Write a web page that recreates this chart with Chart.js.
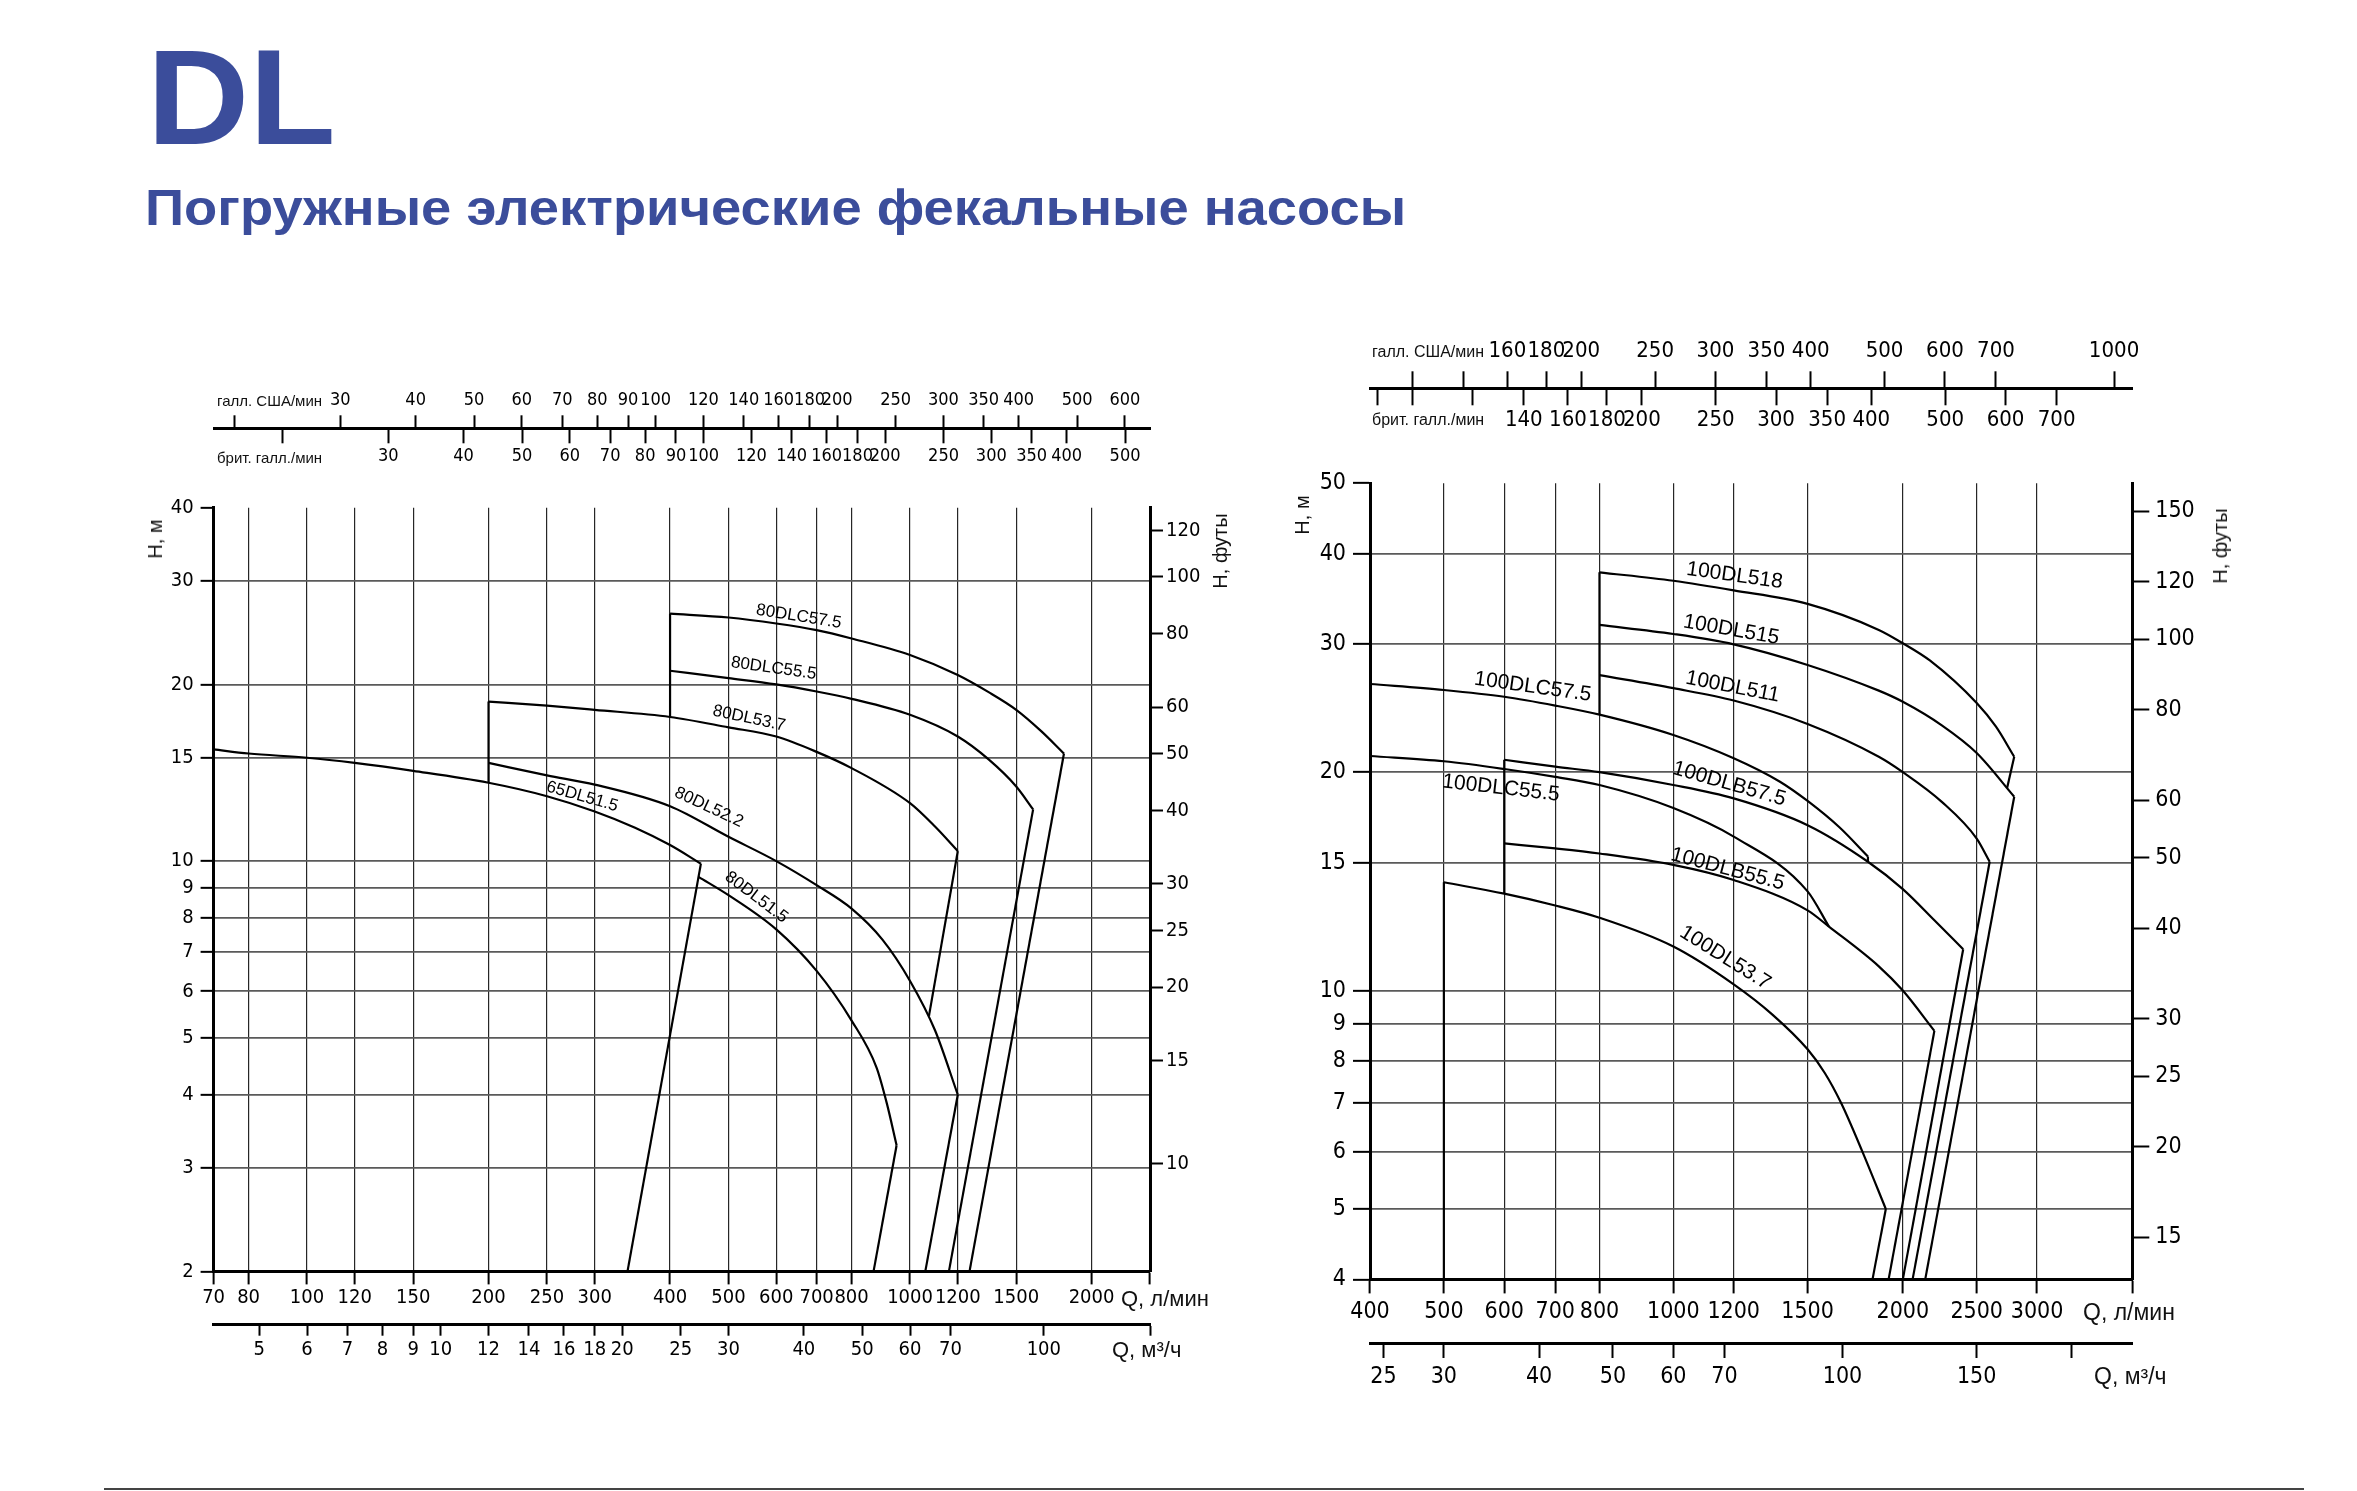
<!DOCTYPE html>
<html>
<head>
<meta charset="utf-8">
<script src="https://cdn.jsdelivr.net/npm/chart.js@4.4.1/dist/chart.umd.min.js"></script>
<style>
  html, body { margin: 0; padding: 0; background: #fff; }
  #page { position: relative; width: 2357px; height: 1491px; overflow: hidden; font-family: 'Liberation Sans', Arial, sans-serif; }
  #page canvas { position: absolute; left: 0; top: 0; }
  .t { position: absolute; white-space: nowrap; color: #111; line-height: 1; }
  .mid { transform: translateY(-50%); }
  .rot { transform: translate(-50%, -50%) rotate(-90deg); }
  #ttl { left: 147px; top: 29px; font-size: 136px; font-weight: bold; color: #3b4d9b; transform: scaleX(1.04); transform-origin: 0 0; }
  #sub { left: 145px; top: 183px; font-size: 50px; font-weight: bold; color: #3b4d9b; transform: scaleX(1.087); transform-origin: 0 0; }
  #rule { position: absolute; left: 104px; top: 1488px; width: 2200px; height: 2px; background: #444; }
</style>
</head>
<body>
<div id="page">
  <div class="t" id="ttl">DL</div>
  <div class="t" id="sub">Погружные электрические фекальные насосы</div>

  <canvas id="leftStrip" width="2357" height="1491"></canvas>
  <canvas id="leftMain" width="2357" height="1491"></canvas>
  <canvas id="rightStrip" width="2357" height="1491"></canvas>
  <canvas id="rightMain" width="2357" height="1491"></canvas>

  <div class="t mid" style="left:217px;top:400px;font-size:15px">галл. США/мин</div>
  <div class="t mid" style="left:217px;top:457px;font-size:15px">брит. галл./мин</div>
  <div class="t rot" style="left:155px;top:539px;font-size:20px">H, м</div>
  <div class="t rot" style="left:1220px;top:551px;font-size:20px">H, футы</div>
  <div class="t mid" style="left:1121px;top:1299px;font-size:22px">Q, л/мин</div>
  <div class="t mid" style="left:1112px;top:1350px;font-size:22px">Q, м³/ч</div>

  <div class="t mid" style="left:1372px;top:352px;font-size:16px">галл. США/мин</div>
  <div class="t mid" style="left:1372px;top:420px;font-size:16px">брит. галл./мин</div>
  <div class="t rot" style="left:1302px;top:515px;font-size:20px">H, м</div>
  <div class="t rot" style="left:2220px;top:546px;font-size:20px">H, футы</div>
  <div class="t mid" style="left:2083px;top:1312px;font-size:23px">Q, л/мин</div>
  <div class="t mid" style="left:2094px;top:1376px;font-size:23px">Q, м³/ч</div>

  <div id="rule"></div>
</div>

<script>
const L_PER_USGAL = 3.785411784, L_PER_UKGAL = 4.54609, L_PER_M3H = 1000 / 60, FT_PER_M = 3.28084;
const TICK_FONT = "'Liberation Sans Narrow', 'DejaVu Sans Condensed', 'Liberation Sans', sans-serif";

// ---------- left chart: 65DL / 80DL ----------
const leftFlowTicks = [70, 80, 100, 120, 150, 200, 250, 300, 400, 500, 600, 700, 800, 1000, 1200, 1500, 2000, 2500];
const leftHeadTicks = [2, 3, 4, 5, 6, 7, 8, 9, 10, 15, 20, 30, 40];
const leftFeetTicks = [10, 15, 20, 25, 30, 40, 50, 60, 80, 100, 120];
const leftM3hTicks = [5, 6, 7, 8, 9, 10, 12, 14, 16, 18, 20, 25, 30, 40, 50, 60, 70, 100, 150];
const leftUsGalTicks = [20, 30, 40, 50, 60, 70, 80, 90, 100, 120, 140, 160, 180, 200, 250, 300, 350, 400, 500, 600];
const leftUkGalTicks = [20, 30, 40, 50, 60, 70, 80, 90, 100, 120, 140, 160, 180, 200, 250, 300, 350, 400, 500];

const curve65DL51_5 = [[70, 15.5], [80, 15.25], [100, 15.0], [120, 14.7], [150, 14.25], [200, 13.6], [250, 12.9], [300, 12.15], [350, 11.4], [400, 10.65], [450, 9.9]];
const curve80DL52_2 = [[200, 14.7], [250, 14.0], [300, 13.5], [400, 12.4], [500, 11.0], [600, 10.0], [700, 9.1], [800, 8.3], [900, 7.35], [1000, 6.25], [1100, 5.15], [1200, 4.0]];
const curve80DL51_5 = [[446, 9.4], [500, 8.75], [600, 7.65], [700, 6.5], [800, 5.35], [880, 4.45], [915, 3.87], [950, 3.28]];
const curve80DL53_7 = [[200, 18.7], [250, 18.4], [300, 18.1], [400, 17.6], [500, 16.9], [600, 16.3], [700, 15.35], [800, 14.4], [1000, 12.55], [1100, 11.45], [1200, 10.4]];
const curve80DLC55_5 = [[400, 21.1], [500, 20.5], [600, 20.0], [700, 19.45], [800, 18.9], [1000, 17.75], [1200, 16.3], [1350, 14.9], [1500, 13.4], [1600, 12.25]];
const curve80DLC57_5 = [[400, 26.4], [500, 26.0], [600, 25.4], [700, 24.75], [800, 23.95], [1000, 22.45], [1200, 20.75], [1350, 19.4], [1500, 18.1], [1650, 16.65], [1800, 15.25]];

const leftEdge200 = [[200, 13.6], [200, 18.7]];
const leftEdge400 = [[400, 17.6], [400, 26.4]];
const drop65DL51_5 = [[450, 9.9], [340, 2]];
const drop80DL52_2 = [[1200, 4.0], [1060, 2]];
const drop80DL51_5 = [[950, 3.28], [870, 2]];
const drop80DL53_7 = [[1200, 10.4], [1075, 5.45]];
const drop80DLC55_5 = [[1600, 12.25], [1160, 2]];
const drop80DLC57_5 = [[1800, 15.25], [1255, 2]];

const leftCurveLabels = [
  { text: '80DLC57.5', q: 654, h: 26.1, angle: 9 },
  { text: '80DLC55.5', q: 594, h: 21.3, angle: 8 },
  { text: '80DL53.7', q: 541, h: 17.5, angle: 12 },
  { text: '80DL52.2', q: 464, h: 12.35, angle: 25 },
  { text: '65DL51.5', q: 286, h: 12.88, angle: 16 },
  { text: '80DL51.5', q: 556, h: 8.68, angle: 37 }
];

// ---------- right chart: 100DL ----------
const rightFlowTicks = [400, 500, 600, 700, 800, 1000, 1200, 1500, 2000, 2500, 3000, 4000];
const rightHeadTicks = [4, 5, 6, 7, 8, 9, 10, 15, 20, 30, 40, 50];
const rightFeetTicks = [15, 20, 25, 30, 40, 50, 60, 80, 100, 120, 150];
const rightM3hTicks = [25, 30, 40, 50, 60, 70, 100, 150, 200];
const rightUsGalTicks = [120, 140, 160, 180, 200, 250, 300, 350, 400, 500, 600, 700, 1000];
const rightUkGalTicks = [90, 100, 120, 140, 160, 180, 200, 250, 300, 350, 400, 500, 600, 700];

const curve100DL518 = [[800, 37.7], [1000, 36.7], [1200, 35.6], [1500, 34.1], [1860, 31.4], [2000, 30.1], [2170, 28.5], [2500, 24.9], [2650, 23.1], [2800, 21.0]];
const curve100DL515 = [[800, 31.9], [1000, 31.0], [1200, 30.0], [1500, 28.1], [1860, 25.9], [2000, 25.0], [2250, 23.2], [2500, 21.25], [2800, 18.5]];
const curve100DL511 = [[800, 27.2], [1000, 26.1], [1200, 25.1], [1500, 23.3], [1860, 21.0], [2000, 20.0], [2250, 18.2], [2500, 16.2], [2600, 15.05]];
const curve100DLC57_5 = [[400, 26.45], [500, 25.95], [600, 25.4], [700, 24.7], [800, 24.0], [1000, 22.5], [1200, 20.9], [1380, 19.4], [1500, 18.25], [1650, 16.8], [1800, 15.3]];
const curve100DLB57_5 = [[600, 20.8], [700, 20.35], [800, 20.0], [1000, 19.2], [1200, 18.4], [1500, 16.9], [1800, 15.05], [2000, 13.8], [2200, 12.5], [2400, 11.4]];
const curve100DLC55_5 = [[400, 21.05], [500, 20.7], [600, 20.2], [700, 19.7], [800, 19.2], [1000, 17.85], [1200, 16.3], [1500, 13.7], [1600, 12.25]];
const curve100DLB55_5 = [[600, 15.95], [700, 15.7], [800, 15.45], [1000, 14.9], [1200, 14.2], [1500, 12.9], [1600, 12.25], [1860, 10.8], [2000, 10.0], [2200, 8.8]];
const curve100DL53_7 = [[500, 14.1], [600, 13.6], [700, 13.1], [800, 12.6], [1000, 11.5], [1200, 10.2], [1350, 9.26], [1500, 8.3], [1580, 7.7], [1660, 7.0], [1770, 6.0], [1900, 5.0]];

const rightEdge800 = [[800, 24.0], [800, 37.7]];
const rightEdge600 = [[600, 13.6], [600, 20.8]];
const rightEdge500 = [[500, 4], [500, 14.1]];
const drop100DL518 = [[2800, 21.0], [2740, 19.0]];
const drop100DL515 = [[2800, 18.5], [2140, 4]];
const drop100DL511 = [[2600, 15.05], [2060, 4]];
const drop100DLC57_5 = [[1800, 15.3], [1800, 15.05]];
const drop100DLB57_5 = [[2400, 11.4], [2000, 4]];
const drop100DLB55_5 = [[2200, 8.8], [1916, 4]];
const drop100DL53_7 = [[1900, 5.0], [1825, 4]];

const rightCurveLabels = [
  { text: '100DL518', q: 1203, h: 37.3, angle: 8 },
  { text: '100DL515', q: 1191, h: 31.4, angle: 10 },
  { text: '100DL511', q: 1196, h: 26.2, angle: 11 },
  { text: '100DLC57.5', q: 654, h: 26.2, angle: 8 },
  { text: '100DLC55.5', q: 594, h: 19.0, angle: 6.5 },
  { text: '100DLB57.5', q: 1184, h: 19.26, angle: 16 },
  { text: '100DLB55.5', q: 1178, h: 14.7, angle: 15 },
  { text: '100DL53.7', q: 1169, h: 11.1, angle: 32 }
];

// ---------- helpers ----------
const W = 2357, H = 1491;

const curveLabelPlugin = {
  id: 'curveLabels',
  afterDatasetsDraw(chart, args, opts) {
    const { ctx } = chart;
    const x = chart.scales.x, y = chart.scales.y;
    ctx.save();
    ctx.font = opts.font;
    ctx.fillStyle = '#000';
    ctx.textAlign = 'center';
    ctx.textBaseline = 'middle';
    opts.items.forEach(it => {
      ctx.save();
      ctx.translate(x.getPixelForValue(it.q), y.getPixelForValue(it.h));
      ctx.rotate(it.angle * Math.PI / 180);
      ctx.fillText(it.text, 0, 0);
      ctx.restore();
    });
    ctx.restore();
  }
};

function logAxis(o) {
  return {
    type: 'logarithmic',
    axis: o.axis,
    position: o.pos,
    min: o.min,
    max: o.max,
    bounds: 'data',
    afterBuildTicks: s => { s.ticks = o.ticks.map(v => ({ value: v })); },
    afterFit: s => {
      if (o.axis === 'x') { s.height = o.size; s.paddingLeft = 0; s.paddingRight = 0; }
      else { s.width = o.size; }
    },
    ticks: {
      autoSkip: false, maxRotation: 0, minRotation: 0,
      padding: o.pad, color: '#000',
      font: { family: TICK_FONT, size: o.font },
      callback: v => (o.blank || []).includes(v) ? '' : String(v)
    },
    grid: {
      drawOnChartArea: !!o.gridColor,
      color: c => (!o.gridColor || (c.tick && c.tick.value === o.noLineAt)) ? 'rgba(0,0,0,0)' : o.gridColor,
      lineWidth: o.gridWidth || 1,
      drawTicks: true,
      tickLength: o.tl,
      tickColor: '#000',
      tickWidth: 2
    },
    border: { display: true, color: '#000', width: o.border || 3 }
  };
}

function lineSets(curves, lines) {
  const base = { borderColor: '#000', borderWidth: 2.2, pointRadius: 0, fill: false };
  return curves.map(c => Object.assign({ data: c, cubicInterpolationMode: 'monotone' }, base))
    .concat(lines.map(l => Object.assign({ data: l, tension: 0 }, base)));
}

function buildMain(id, f, d) {
  return new Chart(document.getElementById(id), {
    type: 'line',
    data: { datasets: lineSets(d.curves, d.lines) },
    plugins: [curveLabelPlugin],
    options: {
      responsive: false, animation: false, devicePixelRatio: 1,
      layout: { padding: { left: f.left - f.yW, right: W - f.right - f.ftW, top: f.top, bottom: H - f.bottom - f.xH - f.m3H } },
      plugins: { legend: { display: false }, tooltip: { enabled: false },
        curveLabels: { items: d.labels, font: f.labelFont } },
      scales: {
        x: logAxis({ axis: 'x', pos: 'bottom', min: d.qMin, max: d.qMax, ticks: d.flowTicks, blank: [d.qMax],
          size: f.xH, pad: f.xPad, font: f.font, tl: f.xTl, gridColor: '#262626', gridWidth: 1.2, border: 3 }),
        m3h: logAxis({ axis: 'x', pos: 'bottom', min: d.qMin / L_PER_M3H, max: d.qMax / L_PER_M3H, ticks: d.m3hTicks, blank: d.m3hBlank,
          size: f.m3H, pad: f.m3Pad, font: f.font, tl: f.m3Tl, border: 3 }),
        y: logAxis({ axis: 'y', pos: 'left', min: d.hMin, max: d.hMax, ticks: d.headTicks, noLineAt: d.hMax,
          size: f.yW, pad: 7, font: f.font, tl: f.yTl, gridColor: '#5a5a5a', gridWidth: 1.7, border: 3 }),
        ft: logAxis({ axis: 'y', pos: 'right', min: d.hMin * FT_PER_M, max: d.hMax * FT_PER_M, ticks: d.feetTicks,
          size: f.ftW, pad: f.ftPad, font: f.font, tl: f.yTl, border: 3 })
      }
    }
  });
}

function buildStrip(id, f, d) {
  return new Chart(document.getElementById(id), {
    type: 'line',
    data: { datasets: [] },
    options: {
      responsive: false, animation: false, devicePixelRatio: 1,
      layout: { padding: { left: f.left, right: W - f.right, top: f.line - f.usH, bottom: H - (f.line + 1) - f.ukH } },
      plugins: { legend: { display: false }, tooltip: { enabled: false } },
      scales: {
        us: logAxis({ axis: 'x', pos: 'top', min: d.qMin / L_PER_USGAL, max: d.qMax / L_PER_USGAL, ticks: d.usTicks, blank: d.usBlank,
          size: f.usH, pad: f.usPad, font: f.font, tl: f.usTl, border: 2 }),
        uk: logAxis({ axis: 'x', pos: 'bottom', min: d.qMin / L_PER_UKGAL, max: d.qMax / L_PER_UKGAL, ticks: d.ukTicks, blank: d.ukBlank,
          size: f.ukH, pad: f.ukPad, font: f.font, tl: f.ukTl, border: 2 }),
        y: { display: false }
      }
    }
  });
}

// ---------- build ----------
const leftData = {
  qMin: 70, qMax: 2500, hMin: 2, hMax: 40,
  flowTicks: leftFlowTicks, headTicks: leftHeadTicks, feetTicks: leftFeetTicks,
  m3hTicks: leftM3hTicks, m3hBlank: [150],
  usTicks: leftUsGalTicks, usBlank: [20], ukTicks: leftUkGalTicks, ukBlank: [20],
  curves: [curve65DL51_5, curve80DL52_2, curve80DL51_5, curve80DL53_7, curve80DLC55_5, curve80DLC57_5],
  lines: [leftEdge200, leftEdge400, drop65DL51_5, drop80DL52_2, drop80DL51_5, drop80DL53_7, drop80DLC55_5, drop80DLC57_5],
  labels: leftCurveLabels
};
const rightData = {
  qMin: 400, qMax: 4000, hMin: 4, hMax: 50,
  flowTicks: rightFlowTicks, headTicks: rightHeadTicks, feetTicks: rightFeetTicks,
  m3hTicks: rightM3hTicks, m3hBlank: [200],
  usTicks: rightUsGalTicks, usBlank: [120, 140], ukTicks: rightUkGalTicks, ukBlank: [90, 100, 120],
  curves: [curve100DL518, curve100DL515, curve100DL511, curve100DLC57_5, curve100DLB57_5, curve100DLC55_5, curve100DLB55_5, curve100DL53_7],
  lines: [rightEdge800, rightEdge600, rightEdge500, drop100DL518, drop100DL515, drop100DL511, drop100DLC57_5, drop100DLB57_5, drop100DLB55_5, drop100DL53_7],
  labels: rightCurveLabels
};

buildMain('leftMain', {
  left: 213.6, right: 1150, top: 507.7, bottom: 1271.4,
  yW: 60, ftW: 60, xH: 52.9, m3H: 45,
  font: 20, xPad: 1.8, xTl: 13, m3Pad: 2.3, m3Tl: 11.4, yTl: 13, ftPad: 3,
  labelFont: "17px 'Liberation Sans', Arial, sans-serif"
}, leftData);

buildMain('rightMain', {
  left: 1370, right: 2132.3, top: 483.3, bottom: 1279.4,
  yW: 60, ftW: 70, xH: 64.1, m3H: 50,
  font: 23, xPad: 4.6, xTl: 14, m3Pad: 5.2, m3Tl: 14.5, yTl: 17, ftPad: 6,
  labelFont: "21px 'Liberation Sans', Arial, sans-serif"
}, rightData);

buildStrip('leftStrip', {
  left: 213.6, right: 1150, line: 428.3, usH: 40, ukH: 40,
  font: 18, usPad: 4.5, usTl: 13, ukPad: 2.6, ukTl: 14
}, leftData);

buildStrip('rightStrip', {
  left: 1370, right: 2132.3, line: 388.3, usH: 48, ukH: 48,
  font: 22, usPad: 6.4, usTl: 17, ukPad: 1.5, ukTl: 16
}, rightData);
</script>
</body>
</html>
